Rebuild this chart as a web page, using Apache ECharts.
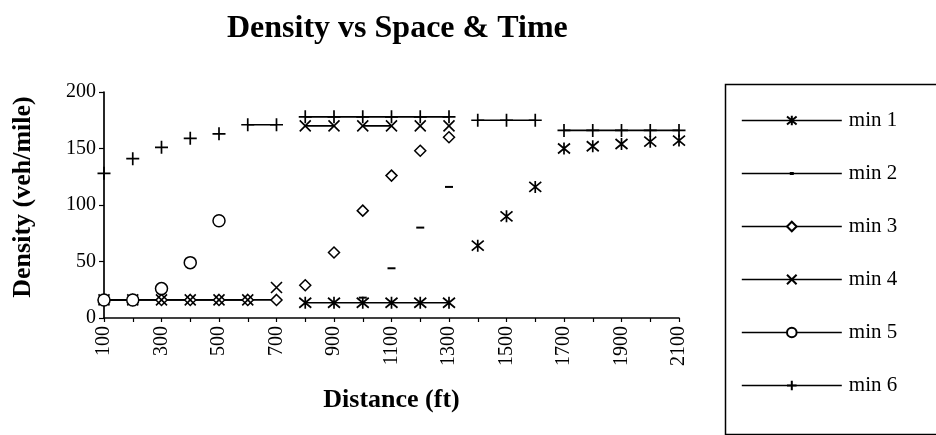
<!DOCTYPE html>
<html>
<head>
<meta charset="utf-8">
<script src="https://cdn.jsdelivr.net/npm/echarts@6/dist/echarts.min.js"></script>
<style>
html,body{margin:0;padding:0;background:#fff;}
#chart{width:936px;height:435px;}
</style>
</head>
<body>
<div id="chart"></div>
<script>
// ---- data ----
var distances = ['100','200','300','400','500','600','700','800','900','1000','1100','1200','1300','1400','1500','1600','1700','1800','1900','2000','2100'];
var yTicks = [0, 50, 100, 150, 200];
var seriesNames = ['min 1','min 2','min 3','min 4','min 5','min 6'];

var min1 = [null,null,null,null,null,null,null,13.5,13.5,13.5,13.5,13.5,13.5,64,90,116,150,152,154,156,157];
var min2 = [null,null,null,null,null,null,null,null,null,18,44,80,116,null,null,null,null,null,null,null,null];
var min3 = [16,16,16,16,16,16,16,29,58,95,126,148,160,null,null,null,null,null,null,null,null];
var min4 = [16,16,16,16,16,16,27,170,170,170,170,170,170,null,null,null,null,null,null,null,null];
var min5 = [16,16,26,49,86,null,null,null,null,null,null,null,null,null,null,null,null,null,null,null,null];
var min6 = [128,141,151,159,163,171,171,178,178,178,178,178,178,175,175,175,166,166,166,166,166];

// visible connecting-line runs (from, to) in distance
var min1Runs = [['800','1300']];
var min2Runs = [];
var min3Runs = [['100','700']];
var min4Runs = [['100','600'],['800','900'],['1000','1100']];
var min5Runs = [['100','200']];
var min6Runs = [['600','700'],['800','1300'],['1400','1600'],['1700','2100']];

// ---- styling ----
var SERIF = 'Liberation Serif';
var markers = {
  'min 1': {symbol:'path://M0,0L10,10M10,0L0,10M5,-1L5,11', size:12, style:{color:'none', borderColor:'#000', borderWidth:1.7}},
  'min 2': {symbol:'path://M0,0H8V4H0Z', size:[8,4], keep:true, style:{color:'#000', borderWidth:0}},
  'min 3': {symbol:'diamond', size:11, style:{color:'#fff', borderColor:'#000', borderWidth:1.5}},
  'min 4': {symbol:'path://M0,0L10,10M10,0L0,10', size:11, style:{color:'none', borderColor:'#000', borderWidth:1.6}},
  'min 5': {symbol:'circle', size:12, style:{color:'#fff', borderColor:'#000', borderWidth:1.5}},
  'min 6': {symbol:'path://M5,0L5,10M0,5L10,5', size:13, style:{color:'none', borderColor:'#000', borderWidth:1.7}}
};
var allData = [min1, min2, min3, min4, min5, min6];
var allRuns = [min1Runs, min2Runs, min3Runs, min4Runs, min5Runs, min6Runs];

var series = [];
seriesNames.forEach(function(name, k){
  var m = markers[name];
  series.push({
    name: name, type: 'line', data: allData[k],
    symbol: m.symbol, symbolSize: m.size, symbolKeepAspect: !!m.keep,
    showAllSymbol: true, connectNulls: false,
    itemStyle: m.style,
    lineStyle: {opacity: 0, color: '#000'},
    emphasis: {disabled: true},
    z: 3
  });
  allRuns[k].forEach(function(run){
    var a = distances.indexOf(run[0]), b = distances.indexOf(run[1]);
    var d = allData[k].map(function(v, i){ return (i >= a && i <= b) ? v : null; });
    series.push({
      name: name, type: 'line', data: d,
      symbol: 'none', showSymbol: false, connectNulls: false,
      lineStyle: {color: '#000', width: 1.7},
      itemStyle: {color: '#000'},
      emphasis: {disabled: true},
      z: 2
    });
  });
});

// legend entries; min 2 gets a line with a tiny dash (icon box 100 x 12)
var legendData = seriesNames.map(function(n){
  if (n === 'min 2') {
    return {name: n, icon: 'path://M0,0L0.01,0L0,0.01Z M0,5.2H100V6.8H0Z M48,4.4H52V7.6H48Z M100,12L99.99,12L100,11.99Z',
            itemStyle: {color: '#000', borderWidth: 0}};
  }
  return n;
});

var chart = echarts.init(document.getElementById('chart'), null, {renderer: 'canvas'});
chart.setOption({
  animation: false,
  backgroundColor: '#fff',
  title: {
    text: 'Density vs Space & Time',
    left: 222, top: 8,
    textStyle: {fontFamily: SERIF, fontWeight: 'bold', fontSize: 32, color: '#000'}
  },
  grid: {left: 104, right: 257, top: 92, bottom: 117, containLabel: false},
  xAxis: {
    type: 'category', data: distances, boundaryGap: false,
    name: 'Distance (ft)', nameLocation: 'middle', nameGap: 69,
    nameTextStyle: {fontFamily: SERIF, fontWeight: 'bold', fontSize: 26, color: '#000'},
    axisLine: {lineStyle: {color: '#000', width: 1.7}},
    axisTick: {show: true, interval: 0, length: 4, lineStyle: {color: '#000', width: 1.2}},
    axisLabel: {interval: 1, rotate: 90, margin: 8, fontFamily: SERIF, fontSize: 20, color: '#000'},
    splitLine: {show: false}
  },
  yAxis: {
    type: 'value', min: yTicks[0], max: yTicks[yTicks.length-1], interval: 50,
    name: 'Density (veh/mile)', nameLocation: 'middle', nameGap: 68,
    nameTextStyle: {fontFamily: SERIF, fontWeight: 'bold', fontSize: 26, color: '#000', padding: [0, 0, 0, 16]},
    axisLine: {show: true, lineStyle: {color: '#000', width: 1.7}},
    axisTick: {show: true, length: 5, lineStyle: {color: '#000', width: 1.2}},
    axisLabel: {margin: 8, fontFamily: SERIF, fontSize: 20, color: '#000'},
    splitLine: {show: false}
  },
  legend: {
    data: legendData,
    orient: 'vertical', left: 736, top: 105,
    itemWidth: 100, itemHeight: 12, itemGap: 32,
    symbolKeepAspect: true,
    selectedMode: false,
    lineStyle: {color: '#000', width: 1.6, opacity: 1},
    textStyle: {fontFamily: SERIF, fontSize: 21, color: '#000', padding: [0,0,0,2]}
  },
  graphic: [{
    type: 'rect', left: 723, top: 82, silent: true,
    shape: {width: 220, height: 350},
    style: {fill: 'none', stroke: '#000', lineWidth: 1.5}
  }],
  series: series
});
</script>
</body>
</html>
